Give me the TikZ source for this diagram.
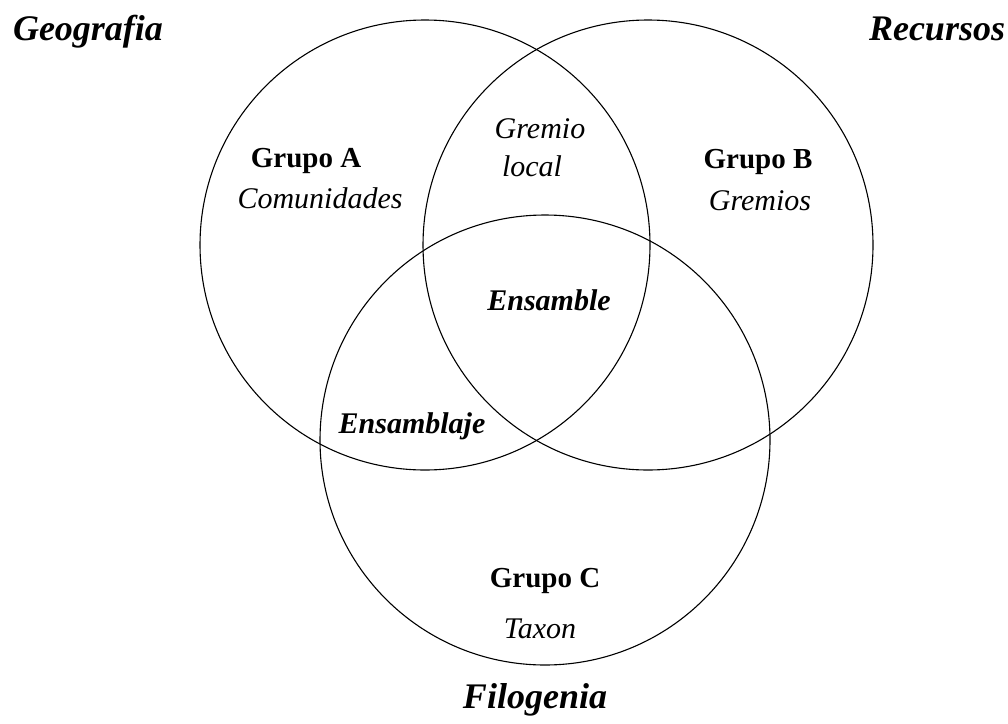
\documentclass[tikz,border=0pt]{standalone}
\usepackage{fontspec}
\setmainfont{Liberation Serif}
\tikzset{
  conjunto/.style = { draw, circle, line width=1.1pt, minimum size=450pt, inner sep=0pt },
  titulo/.style   = { anchor=base, font=\fontsize{36}{40}\selectfont\bfseries\itshape },
  grupo/.style    = { anchor=base, font=\fontsize{29}{33}\selectfont\bfseries },
  nombre/.style   = { anchor=base, font=\fontsize{30}{34}\selectfont\itshape },
  cruce/.style    = { anchor=base, font=\fontsize{30}{34}\selectfont\bfseries\itshape }
}
\begin{document}
\begin{tikzpicture}[x=1pt,y=-1pt]
  \useasboundingbox (0,0) rectangle (1008,723);

  % Draw the three sets
  \node[conjunto] (geo)  at (425,245) {};
  \node[conjunto] (rec)  at (648,245) {};
  \node[conjunto] (filo) at (545,440) {};

  % Draw titles
  \node[titulo] (tgeo)  at (88,40)   {Geografia};
  \node[titulo] (trec)  at (937,40)  {Recursos};
  \node[titulo] (tfilo) at (535,708) {Filogenia};

  % Draw labels
  \node[grupo]  (ga)  at (306,167) {Grupo A};
  \node[nombre] (na)  at (320,208) {Comunidades};
  \node[grupo]  (gb)  at (758,168) {Grupo B};
  \node[nombre] (nb)  at (760,210) {Gremios};
  \node[grupo]  (gc)  at (545,587) {Grupo C};
  \node[nombre] (nc)  at (540,638) {Taxon};

  \node[nombre] (ab1) at (540,138) {Gremio};
  \node[nombre] (ab2) at (532,176) {local};
  \node[cruce]  (abc) at (549,310) {Ensamble};
  \node[cruce]  (ac)  at (412,433) {Ensamblaje};
\end{tikzpicture}
\end{document}
